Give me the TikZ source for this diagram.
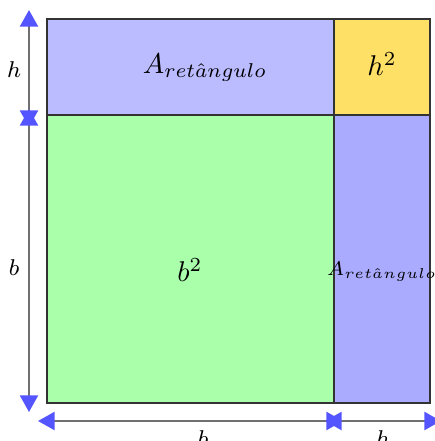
\documentclass[tikz,border=0pt]{standalone}
\usepackage{xcolor}
\usepackage{tikz}
\usetikzlibrary{arrows.meta}
\definecolor{sqGreen}{HTML}{AAFFAA}
\definecolor{sqYellow}{HTML}{FFE066}
\definecolor{rcTop}{HTML}{BBBBFF}
\definecolor{rcSide}{HTML}{AAAAFF}
\definecolor{tipBlue}{HTML}{5555FF}
\definecolor{dimGray}{HTML}{707070}

\begin{document}
\begin{tikzpicture}[
  x=0.35pt, y=-0.35pt,
  part/.style={draw=black!80, line width=0.75pt},
  dimarrow/.style={
    {Triangle[length=5.8pt,width=6.3pt,color=tipBlue]}-{Triangle[length=5.8pt,width=6.3pt,color=tipBlue]},
    draw=dimGray, line width=0.75pt
  },
  dimlabel/.style={font=\footnotesize, inner sep=1pt}
]
\useasboundingbox (0,0) rectangle (435,441);

% pieces of the square
\fill[rcTop] (47,19) rectangle (334,115);
\fill[sqYellow] (334,19) rectangle (430,115);
\fill[sqGreen] (47,115) rectangle (334,403);
\fill[rcSide] (334,115) rectangle (430,403);
\draw[part] (47,19) rectangle (334,115);
\draw[part] (334,19) rectangle (430,115);
\draw[part] (47,115) rectangle (334,403);
\draw[part] (334,115) rectangle (430,403);

\node (atop) at (205,68) {$A_{ret\hat{a}ngulo}$};
\node (hsq) at (382,64) {$h^2$};
\node (bsq) at (190,270) {$b^2$};
\node[font=\scriptsize, inner sep=0pt] (aside) at (382,272) {$A_{ret\hat{a}ngulo}$};

% dimension arrows
\coordinate (vtop) at (29,10);
\coordinate (vmidA) at (29,127);
\coordinate (vmidB) at (29,109);
\coordinate (vbot) at (29,412);
\coordinate (hleft) at (38,421);
\coordinate (hmidA) at (343,421);
\coordinate (hmidB) at (325,421);
\coordinate (hright) at (441,421);

\draw[dimarrow] (vmidA) -- (vtop);
\draw[dimarrow] (vmidB) -- (vbot);
\draw[dimarrow] (hmidA) -- (hleft);
\draw[dimarrow] (hmidB) -- (hright);

\node[dimlabel] (lh) at (14,70) {$h$};
\node[dimlabel] (lb) at (14,268) {$b$};
\node[dimlabel, anchor=north] (bb) at (203,427) {$b$};
\node[dimlabel, anchor=north] (bh) at (383,427) {$h$};
\end{tikzpicture}
\end{document}
